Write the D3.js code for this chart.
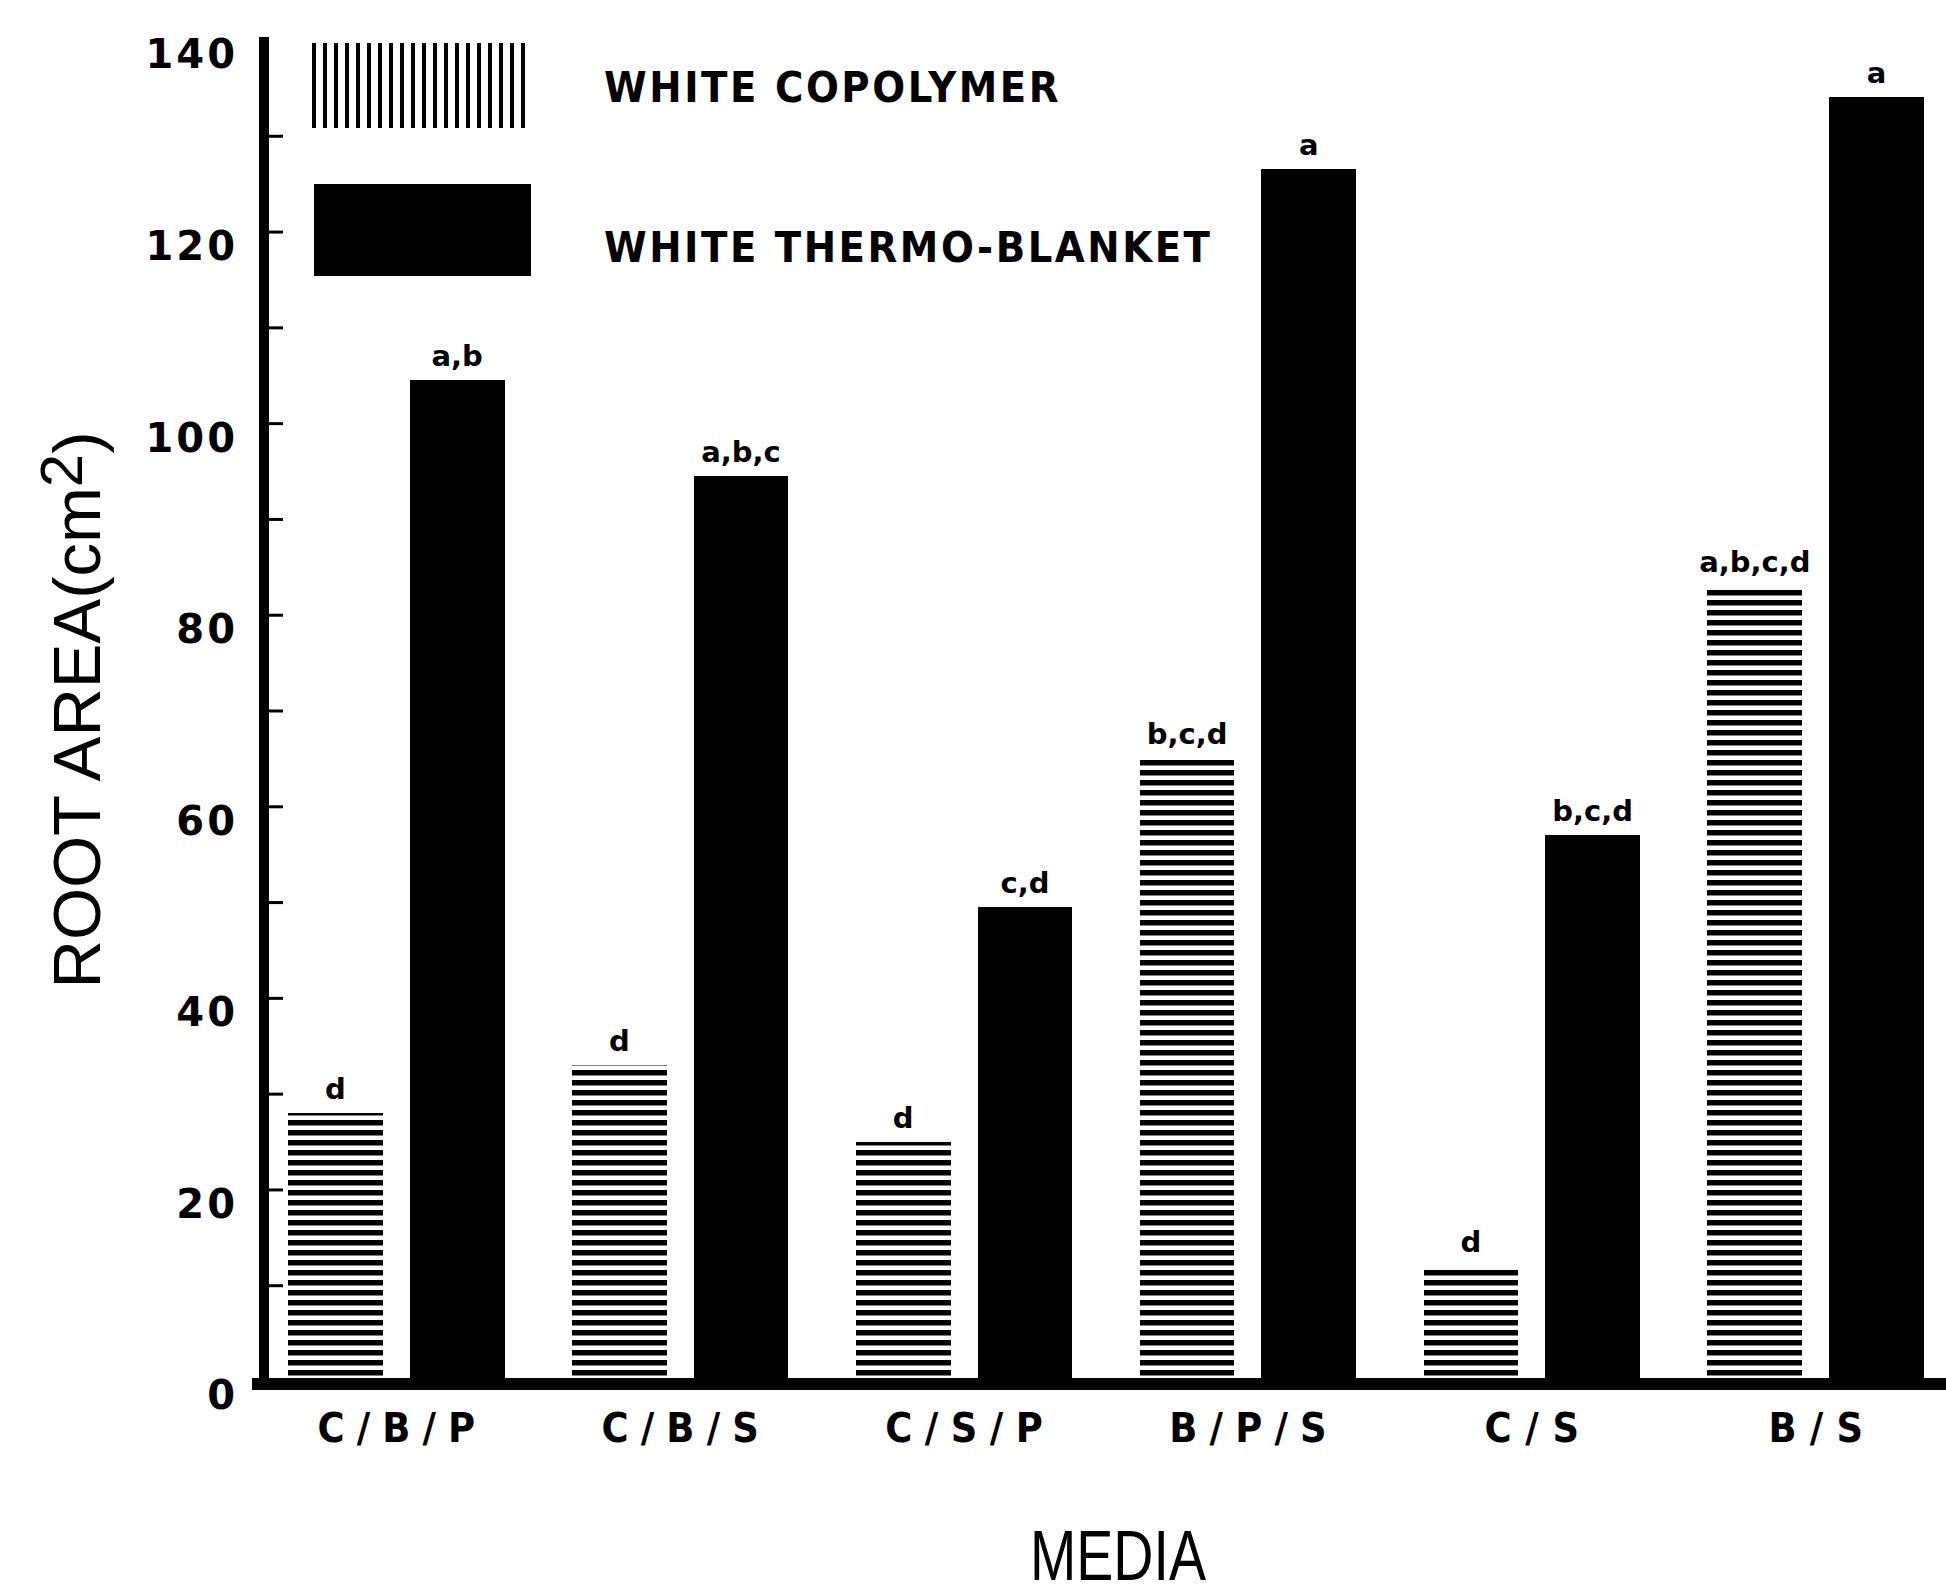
<!DOCTYPE html>
<html>
<head>
<meta charset="utf-8">
<script src="https://cdn.jsdelivr.net/npm/d3@7"></script>
<style>
  html, body { margin: 0; padding: 0; background: #fff; }
  svg { display: block; }
</style>
</head>
<body>
<div id="chart"></div>
<script>
// Root area by growing media, two mulch covers
const categories = ["C/B/P", "C/B/S", "C/S/P", "B/P/S", "C/S", "B/S"];
const seriesNames = ["WHITE COPOLYMER", "WHITE THERMO-BLANKET"];
const copolymer = [28, 33, 25, 65, 12, 83];
const blanket = [104.5, 94.5, 49.5, 126.5, 57, 134];
const copolymerLetters = ["d", "d", "d", "b,c,d", "d", "a,b,c,d"];
const blanketLetters = ["a,b", "a,b,c", "c,d", "a", "b,c,d", "a"];
const yTickValues = [0, 20, 40, 60, 80, 100, 120, 140];
const yMarkValues = [10, 20, 30, 40, 50, 60, 70, 80, 90, 100, 110, 120, 130];

const W = 1946, H = 1596;
const svg = d3.select("#chart").append("svg")
  .attr("width", W).attr("height", H)
  .style("background", "#fff");

const defs = svg.append("defs");
// horizontal stripes for copolymer bars
const hp = defs.append("pattern").attr("id", "hstripe")
  .attr("patternUnits", "userSpaceOnUse").attr("width", 20).attr("height", 10);
hp.append("rect").attr("width", 20).attr("height", 10).attr("fill", "#fff");
hp.append("rect").attr("y", 0).attr("width", 20).attr("height", 5.5).attr("fill", "#000");
// vertical stripes for the legend swatch
const vp = defs.append("pattern").attr("id", "vstripe")
  .attr("patternUnits", "userSpaceOnUse").attr("width", 11).attr("height", 20)
  .attr("x", 312);
vp.append("rect").attr("width", 11).attr("height", 20).attr("fill", "#fff");
vp.append("rect").attr("x", 0).attr("width", 4).attr("height", 20).attr("fill", "#000");

const axisX = 264;
const y = d3.scaleLinear().domain([0, 140]).range([1381, 40]);
const x0 = d3.scaleBand().domain(categories).range([261, 1951])
  .paddingInner(0.237).paddingOuter(0.095);
const x1 = d3.scaleBand().domain(seriesNames).range([0, x0.bandwidth()])
  .paddingInner(0.221).paddingOuter(0);

const rows = categories.map((c, i) => ({
  cat: c,
  vals: [
    { s: seriesNames[0], v: copolymer[i], lab: copolymerLetters[i] },
    { s: seriesNames[1], v: blanket[i], lab: blanketLetters[i] }
  ]
}));

const fills = { "WHITE COPOLYMER": "url(#hstripe)", "WHITE THERMO-BLANKET": "#000" };

const groups = svg.append("g").selectAll("g").data(rows).join("g")
  .attr("transform", d => `translate(${x0(d.cat)},0)`);

groups.selectAll("rect").data(d => d.vals).join("rect")
  .attr("x", d => x1(d.s))
  .attr("y", d => y(d.v))
  .attr("width", x1.bandwidth())
  .attr("height", d => y(0) - y(d.v))
  .attr("fill", d => fills[d.s])
  .attr("shape-rendering", "crispEdges");

// significance letters above each bar
groups.selectAll("text.sig").data(d => d.vals).join("text")
  .attr("class", "sig")
  .attr("x", d => x1(d.s) + x1.bandwidth() / 2)
  .attr("y", d => y(d.v) - 14)
  .attr("text-anchor", "middle")
  .attr("font-family", "DejaVu Sans")
  .attr("font-weight", "bold")
  .attr("font-size", 29)
  .attr("fill", "#000")
  .text(d => d.lab);

// y axis line
svg.append("line")
  .attr("x1", axisX).attr("x2", axisX)
  .attr("y1", 37).attr("y2", 1390)
  .attr("stroke", "#000").attr("stroke-width", 10);

// inward tick marks on the y axis
const yAxis = d3.axisRight(y)
  .tickValues(yMarkValues)
  .tickSize(14).tickFormat("");
const yg = svg.append("g").attr("transform", `translate(${axisX + 5},0)`).call(yAxis);
yg.select(".domain").remove();
yg.selectAll(".tick line").attr("stroke", "#000").attr("stroke-width", 3);

// y tick labels
svg.append("g").selectAll("text").data(yTickValues).join("text")
  .attr("x", 238)
  .attr("y", d => y(d) + 14)
  .attr("dy", "0.36em")
  .attr("text-anchor", "end")
  .attr("font-family", "DejaVu Sans")
  .attr("font-weight", "bold")
  .attr("font-size", 40)
  .attr("letter-spacing", 3)
  .attr("fill", "#000")
  .text(d => d);

// baseline
svg.append("line")
  .attr("x1", 252).attr("x2", W)
  .attr("y1", y(0) + 3).attr("y2", y(0) + 3)
  .attr("stroke", "#000").attr("stroke-width", 12);

// category labels
svg.append("g").selectAll("text").data(categories).join("text")
  .attr("x", d => x0(d) + x0.bandwidth() / 2)
  .attr("y", 1442)
  .attr("text-anchor", "middle")
  .attr("font-family", "DejaVu Sans Condensed, DejaVu Sans")
  .attr("font-weight", "bold")
  .attr("font-size", 41)
  .attr("textLength", d => d.length * 31.5)
  .attr("lengthAdjust", "spacing")
  .attr("fill", "#000")
  .text(d => d);

// axis titles
svg.append("text")
  .attr("x", 1118).attr("y", 1580)
  .attr("text-anchor", "middle")
  .attr("font-family", "Liberation Sans, Arial")
  .attr("font-size", 70)
  .attr("textLength", 176)
  .attr("lengthAdjust", "spacingAndGlyphs")
  .attr("fill", "#000")
  .text("MEDIA");

const yt = svg.append("text")
  .attr("transform", "translate(100,710) rotate(-90)")
  .attr("text-anchor", "middle")
  .attr("font-family", "Liberation Sans, Arial")
  .attr("font-size", 67)
  .attr("fill", "#000");
yt.append("tspan").text("ROOT  AREA(cm");
yt.append("tspan").attr("font-size", 60).attr("dy", -18).text("2");
yt.append("tspan").attr("dy", 18).text(")");

// legend
const legend = svg.append("g");
const swatches = [
  { name: seriesNames[0], fill: "url(#vstripe)", x: 312, y: 43, w: 219, h: 85, ty: 102 },
  { name: seriesNames[1], fill: "#000", x: 314, y: 184, w: 217, h: 92, ty: 262 }
];
legend.selectAll("rect").data(swatches).join("rect")
  .attr("x", d => d.x).attr("y", d => d.y)
  .attr("width", d => d.w).attr("height", d => d.h)
  .attr("fill", d => d.fill)
  .attr("shape-rendering", "crispEdges");
legend.selectAll("text").data(swatches).join("text")
  .attr("x", 604).attr("y", d => d.ty)
  .attr("font-family", "DejaVu Sans Condensed, DejaVu Sans")
  .attr("font-weight", "bold")
  .attr("font-size", 43)
  .attr("textLength", d => d.name.length * 30.3)
  .attr("lengthAdjust", "spacing")
  .attr("fill", "#000")
  .text(d => d.name);
</script>
</body>
</html>
